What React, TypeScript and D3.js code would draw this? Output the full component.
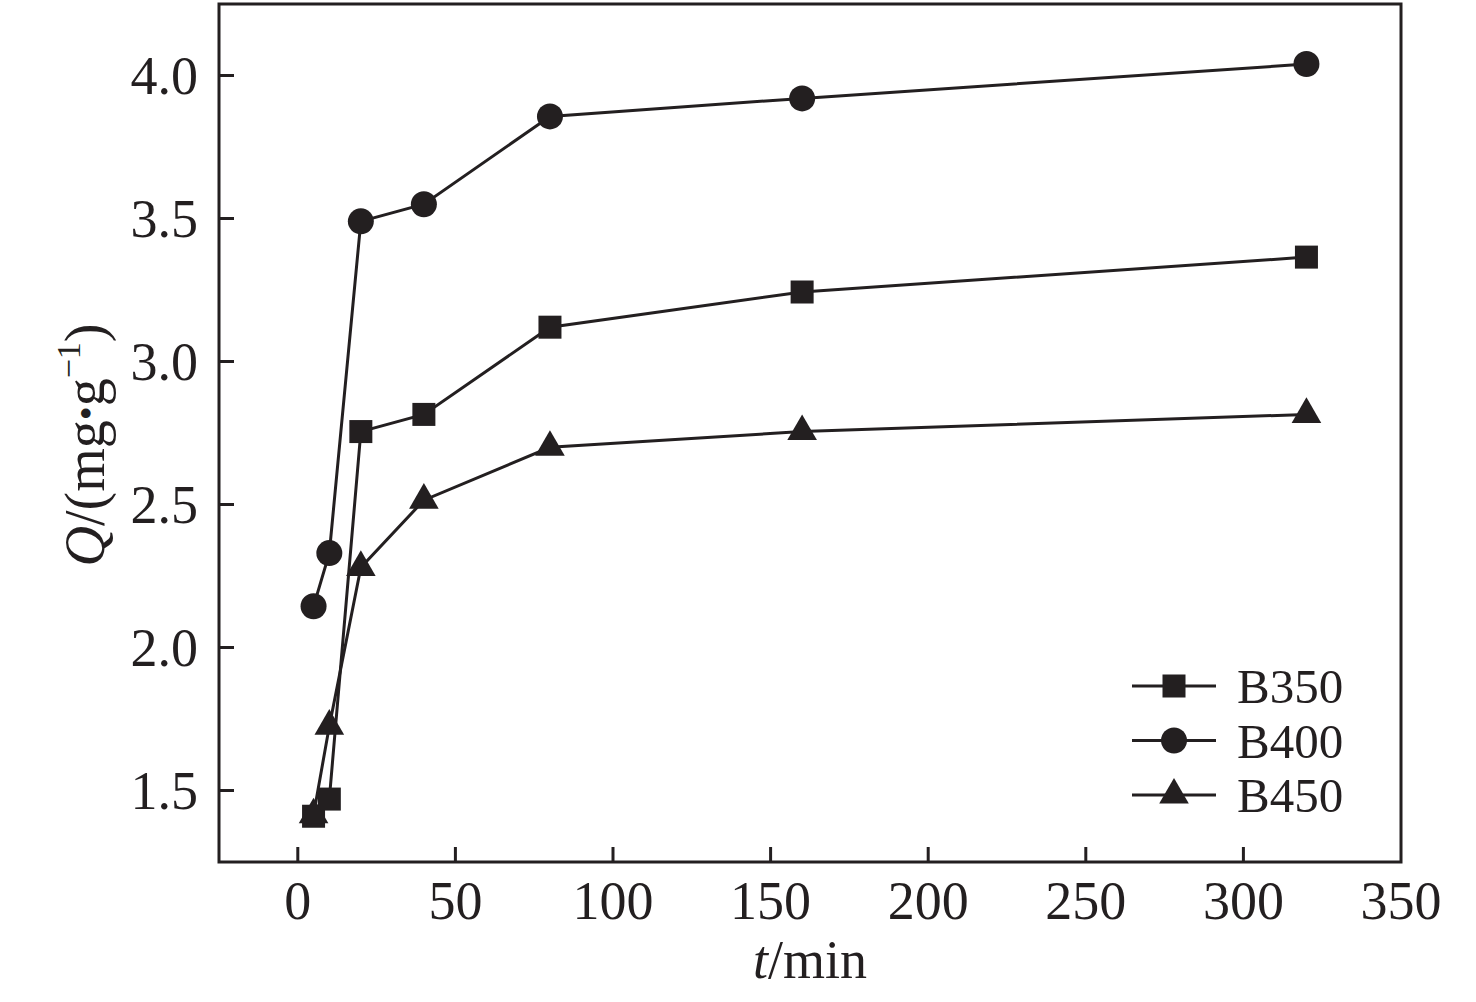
import React from "react";
import * as d3 from "d3";

const times = [5, 10, 20, 40, 80, 160, 320];
const b350 = [1.41, 1.47, 2.755, 2.815, 3.12, 3.243, 3.365];
const b400 = [2.144, 2.33, 3.49, 3.55, 3.857, 3.92, 4.04];
const b450 = [1.415, 1.725, 2.28, 2.515, 2.70, 2.755, 2.815];
const xTicks = [0, 50, 100, 150, 200, 250, 300, 350];
const yTicks = [1.5, 2.0, 2.5, 3.0, 3.5, 4.0];
const seriesNames = ["B350", "B400", "B450"];
const seriesShapes = ["square", "circle", "triangle"];

const W = 1476;
const H = 1002;
const L = 219, R = 1401, T = 4, B = 862;
const INK = "#231f20";
const FONT = "'Liberation Serif', 'Times New Roman', serif";

function Marker({ shape, x, y }: { shape: string; x: number; y: number }) {
  if (shape === "square") {
    return <rect x={x - 11.5} y={y - 11.5} width={23} height={23} fill={INK} />;
  }
  if (shape === "circle") {
    return <circle cx={x} cy={y} r={13} fill={INK} />;
  }
  const sym = d3.symbol(d3.symbolTriangle, 380)();
  return <path d={sym || ""} transform={`translate(${x},${y})`} fill={INK} />;
}

export default function App() {
  const x = d3.scaleLinear().domain([-25, 350]).range([L, R]);
  const y = d3.scaleLinear().domain([1.25, 4.25]).range([B, T]);
  const line = d3
    .line<[number, number]>()
    .x((d) => x(d[0]))
    .y((d) => y(d[1]));
  const allSeries = [b350, b400, b450];

  return (
    <svg
      width={W}
      height={H}
      style={{ position: "absolute", left: 0, top: 0, background: "#fff" }}
      fontFamily={FONT}
    >
      <rect x={0} y={0} width={W} height={H} fill="#fff" />
      {xTicks.map((t) => (
        <g key={"x" + t}>
          {x(t) > L + 1 && x(t) < R - 1 && (
            <line x1={x(t)} x2={x(t)} y1={B} y2={B - 15} stroke={INK} strokeWidth={3} />
          )}
          <text x={x(t)} y={919} textAnchor="middle" fontSize={54} fill={INK}>
            {t}
          </text>
        </g>
      ))}
      {yTicks.map((t) => (
        <g key={"y" + t}>
          <line x1={L} x2={L + 15} y1={y(t)} y2={y(t)} stroke={INK} strokeWidth={3} />
          <text x={198} y={y(t) + 18} textAnchor="end" fontSize={54} fill={INK}>
            {t.toFixed(1)}
          </text>
        </g>
      ))}
      {allSeries.map((vals, si) => {
        const pts: [number, number][] = times.map((t, i) => [t, vals[i]]);
        return (
          <g key={seriesNames[si]}>
            <path d={line(pts) || ""} fill="none" stroke={INK} strokeWidth={3} />
            {pts.map((p, i) => (
              <Marker key={i} shape={seriesShapes[si]} x={x(p[0])} y={y(p[1])} />
            ))}
          </g>
        );
      })}
      <rect x={L} y={T} width={R - L} height={B - T} fill="none" stroke={INK} strokeWidth={3} />
      {seriesNames.map((n, i) => {
        const ly = 686 + i * 54.5;
        return (
          <g key={n}>
            <line x1={1132} x2={1216} y1={ly} y2={ly} stroke={INK} strokeWidth={3} />
            <Marker shape={seriesShapes[i]} x={1174} y={ly} />
            <text x={1237} y={ly + 17} fontSize={49} fill={INK}>
              {n}
            </text>
          </g>
        );
      })}
      <text x={810} y={978} textAnchor="middle" fontSize={54} fill={INK}>
        <tspan fontStyle="italic">t</tspan>/min
      </text>
      <text
        transform="translate(104,445) rotate(-90)"
        textAnchor="middle"
        fontSize={56}
        fill={INK}
      >
        <tspan fontStyle="italic">Q</tspan>/(mg
        <tspan fontSize={40} dy={-4}>•</tspan>
        <tspan dy={4}>g</tspan>
        <tspan fontSize={34} dy={-24}>−1</tspan>
        <tspan dy={24}>)</tspan>
      </text>
    </svg>
  );
}
